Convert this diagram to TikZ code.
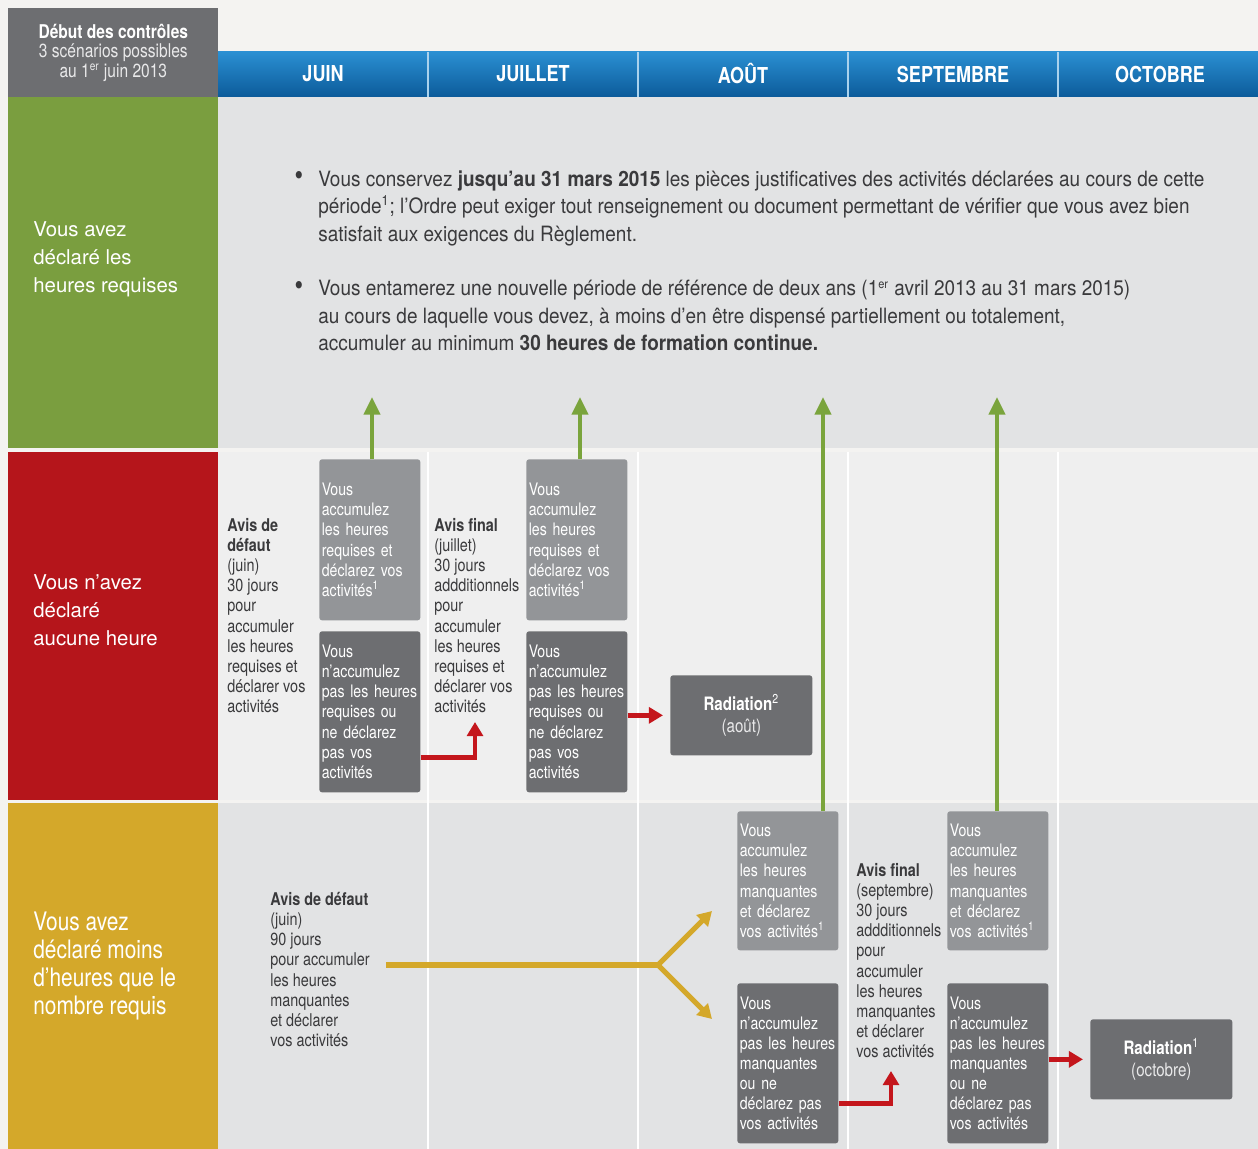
\documentclass[tikz,border=0pt]{standalone}
\usepackage{fontspec}
\setmainfont{TeX Gyre Heros}[FakeStretch=0.82]
\newfontfamily\widefont{TeX Gyre Heros}
\newfontfamily\bodyfont{TeX Gyre Heros}[FakeStretch=0.9]
\usetikzlibrary{positioning,arrows.meta}

\definecolor{pagebg}{HTML}{F4F3F1}
\definecolor{rowgray}{HTML}{E2E3E4}
\definecolor{rowlight}{HTML}{EFEFEF}
\definecolor{boxdark}{HTML}{6D6E71}
\definecolor{boxlight}{HTML}{939598}
\definecolor{lblgreen}{HTML}{7A9E3F}
\definecolor{lblred}{HTML}{B5151B}
\definecolor{lblyellow}{HTML}{D4A82A}
\definecolor{arrgreen}{HTML}{7AA43C}
\definecolor{arrred}{HTML}{C4161C}
\definecolor{hdtop}{HTML}{2A8FD2}
\definecolor{hdbot}{HTML}{0C5B9A}
\definecolor{txtgray}{HTML}{3A3A3C}

\newcommand{\boxfont}{\fontsize{9.8}{11.45}\selectfont}
\newcommand{\plainfont}{\fontsize{10}{11.45}\selectfont}

\begin{document}
\begin{tikzpicture}[x=0.02cm, y=-0.02cm,
    month/.style={text=white, font=\fontsize{12.5}{14}\selectfont\bfseries},
    lbox/.style={fill=boxlight, text=white, rounded corners=1.5pt, anchor=north west,
      text width=1.92cm, inner xsep=0.05cm, align=left, font=\boxfont},
    dbox/.style={lbox, fill=boxdark},
    radbox/.style={fill=boxdark, text=white, rounded corners=1.5pt, anchor=north west,
      minimum width=2.84cm, minimum height=1.6cm, align=center, font=\fontsize{10.5}{12}\selectfont},
    note/.style={anchor=north west, align=left, inner sep=0pt, text=txtgray, font=\plainfont},
    body/.style={anchor=north west, align=left, inner sep=0pt, text=txtgray, font=\bodyfont\fontsize{12}{15.7}\selectfont},
    rowlbl/.style={anchor=north west, align=left, inner sep=0pt, text=white},
    garr/.style={draw=arrgreen, line width=2.6pt, -{Triangle[length=10pt,width=9pt]}},
    rarr/.style={draw=arrred, line width=2.8pt, -{Triangle[length=8pt,width=9pt]}},
    yline/.style={draw=lblyellow, line width=3pt},
    yarr/.style={yline, -{Triangle[length=8pt,width=9pt]}},
    colsep/.style={draw=white, line width=1pt}]

    % fond et bandes
    \fill[pagebg] (0,0) rectangle (1258,1149);
    \useasboundingbox (0,0) rectangle (1258,1149);
    \shade[top color=hdtop, bottom color=hdbot] (218,52) rectangle (1258,97);
    \fill[rowgray] (218,97) rectangle (1258,448);
    \fill[rowlight] (218,452) rectangle (1258,800);
    \fill[rowgray] (218,803) rectangle (1258,1149);
    \fill[lblgreen] (8,97) rectangle (218,448);
    \fill[lblred] (8,452) rectangle (218,800);
    \fill[lblyellow] (8,803) rectangle (218,1149);
    \draw[colsep] (428,452) -- (428,1149) (638,452) -- (638,1149)
        (848,452) -- (848,1149) (1058,452) -- (1058,1149);
    \draw[colsep, draw=white!60!hdtop] (428,52) -- (428,97) (638,52) -- (638,97)
        (848,52) -- (848,97) (1058,52) -- (1058,97);

    % en-tete
    \node[fill=boxdark, anchor=north west, minimum width=4.2cm, minimum height=1.78cm, inner sep=0pt,
        align=center, text=white!85!boxdark, font=\fontsize{10.8}{11.3}\selectfont] (start) at (8,8)
        {\textcolor{white}{\textbf{Début des contrôles}}\\3 scénarios possibles\\au 1\textsuperscript{\scriptsize er} juin 2013};
    \node[month] (jun) at (323,74) {JUIN};
    \node[month] (jul) at (533,74) {JUILLET};
    \node[month] (aug) at (743,74) {AOÛT};
    \node[month] (sep) at (953,74) {SEPTEMBRE};
    \node[month] (oct) at (1160,74) {OCTOBRE};

    % libelles des lignes
    \node[rowlbl, font=\widefont\fontsize{11.6}{15.9}\selectfont] (okrow) at (33,221)
        {Vous avez\\déclaré les\\heures requises};
    \node[rowlbl, font=\widefont\fontsize{11.6}{15.9}\selectfont] (norow) at (33,574)
        {Vous n’avez\\déclaré\\aucune heure};
    \node[rowlbl, font=\fontsize{14.5}{15.9}\selectfont] (lessrow) at (33,912)
        {Vous avez\\déclaré moins\\d’heures que le\\nombre requis};

    % heures requises
    \node[body, anchor=center, font=\fontsize{17}{17}\selectfont] (dot1) at (299,178) {\textbullet};
    \node[body] (keep) at (318,170) {Vous conservez \textbf{jusqu’au 31 mars 2015} les pièces justificatives des activités déclarées au cours de cette\\période\textsuperscript{1}; l’Ordre peut exiger tout renseignement ou document permettant de vérifier que vous avez bien\\satisfait aux exigences du Règlement.};
    \node[body, anchor=center, font=\fontsize{17}{17}\selectfont] (dot2) at (299,288) {\textbullet};
    \node[body] (period) at (318,280) {Vous entamerez une nouvelle période de référence de deux ans (1\textsuperscript{\scriptsize er}~avril 2013 au 31 mars 2015)\\au cours de laquelle vous devez, à moins d’en être dispensé partiellement ou totalement,\\accumuler au minimum \textbf{30 heures de formation continue.}};

    % aucune heure
    \node[note] (avd1) at (227,518) {\textbf{Avis de}\\\textbf{défaut}\\(juin)\\30 jours\\pour\\accumuler\\les heures\\requises et\\déclarer vos\\activités};
    \node[lbox, minimum height=3.22cm] (acc1) at (319,459) {Vous\\accumulez\\les heures\\requises et\\déclarez vos\\activités\textsuperscript{1}};
    \node[dbox, minimum height=3.22cm] (drk1) at (319,631) {Vous\\n’accumulez\\pas les heures\\requises ou\\ne déclarez\\pas vos\\activités};
    \node[note] (avf1) at (434,518) {\textbf{Avis final}\\(juillet)\\30 jours\\addditionnels\\pour\\accumuler\\les heures\\requises et\\déclarer vos\\activités};
    \node[lbox, minimum height=3.22cm] (acc2) at (526,459) {Vous\\accumulez\\les heures\\requises et\\déclarez vos\\activités\textsuperscript{1}};
    \node[dbox, minimum height=3.22cm] (drk2) at (526,631) {Vous\\n’accumulez\\pas les heures\\requises ou\\ne déclarez\\pas vos\\activités};
    \node[radbox] (rad1) at (670,675) {\textbf{Radiation}\textsuperscript{2}\\\textcolor{white!85!boxdark}{(août)}};

    % moins d'heures
    \node[note] (avd2) at (270,892) {\textbf{Avis de défaut}\\(juin)\\90 jours\\pour accumuler\\les heures\\manquantes\\et déclarer\\vos activités};
    \node[lbox, minimum height=2.78cm] (acc3) at (737,811) {Vous\\accumulez\\les heures\\manquantes\\et déclarez\\vos activités\textsuperscript{1}};
    \node[dbox, minimum height=3.2cm] (drk3) at (737,983) {Vous\\n’accumulez\\pas les heures\\manquantes\\ou ne\\déclarez pas\\vos activités};
    \node[note] (avf2) at (856,863) {\textbf{Avis final}\\(septembre)\\30 jours\\addditionnels\\pour\\accumuler\\les heures\\manquantes\\et déclarer\\vos activités};
    \node[lbox, minimum height=2.78cm] (acc4) at (947,811) {Vous\\accumulez\\les heures\\manquantes\\et déclarez\\vos activités\textsuperscript{1}};
    \node[dbox, minimum height=3.2cm] (drk4) at (947,983) {Vous\\n’accumulez\\pas les heures\\manquantes\\ou ne\\déclarez pas\\vos activités};
    \node[radbox] (rad2) at (1090,1019) {\textbf{Radiation}\textsuperscript{1}\\\textcolor{white!85!boxdark}{(octobre)}};

    % fleches
    \coordinate (g1) at (372,397);
    \coordinate (g2) at (580,397);
    \coordinate (g3) at (823,397);
    \coordinate (g4) at (997,397);
    \draw[garr] (acc1.north -| g1) -- (g1);
    \draw[garr] (acc2.north -| g2) -- (g2);
    \draw[garr] (acc3.north -| g3) -- (g3);
    \draw[garr] (acc4.north -| g4) -- (g4);

    \coordinate (r1) at (475,722);
    \coordinate (r3) at (891,1071);
    \draw[rarr] ([yshift=-0.91cm]drk1.east) -| (r1);
    \draw[rarr, shorten >=4pt] (drk2.east |- rad1.west) -- (rad1.west);
    \draw[rarr] ([yshift=-0.8cm]drk3.east) -| (r3);
    \draw[rarr, shorten >=4pt] (drk4.east |- rad2.west) -- (rad2.west);

    \coordinate (fork) at (658,965);
    \coordinate (ytop) at (712,911);
    \coordinate (ybot) at (712,1019);
    \draw[yline] ([xshift=9pt]avd2.east |- fork) -- (fork);
    \draw[yarr] (fork) -- (ytop);
    \draw[yarr] (fork) -- (ybot);
\end{tikzpicture}
\end{document}
